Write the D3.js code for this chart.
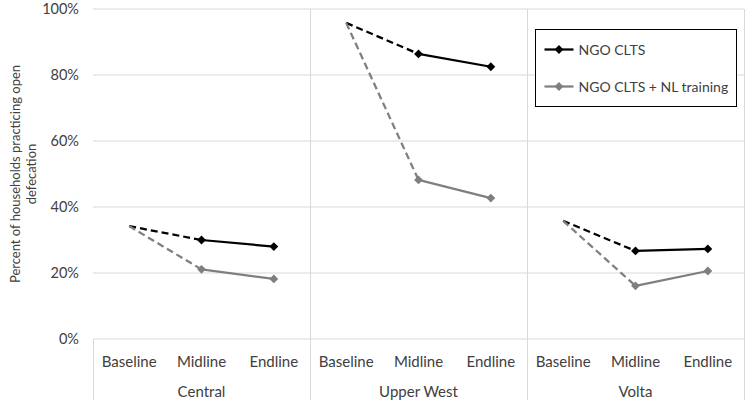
<!DOCTYPE html>
<html>
<head>
<meta charset="utf-8">
<script src="https://cdn.jsdelivr.net/npm/d3@7"></script>
<style>
  body { margin: 0; background: #fff; }
  text { font-family: Lato, "Open Sans", sans-serif; fill: #404040; }
</style>
</head>
<body>
<div id="chart"></div>
<script>
// regions and rounds on the x axis
const regions = ['Central', 'Upper West', 'Volta'];
const rounds = ['Baseline', 'Midline', 'Endline'];

// percent practicing open defecation, one value per round, per region
const clts = [
  [34.2, 30.0, 28.0],
  [95.8, 86.4, 82.5],
  [35.8, 26.7, 27.3]
];
const cltsNl = [
  [34.2, 21.1, 18.2],
  [95.8, 48.2, 42.7],
  [35.8, 16.1, 20.6]
];

const yTicks = [0, 20, 40, 60, 80, 100];

const seriesNames = ['NGO CLTS', 'NGO CLTS + NL training'];
const seriesColors = ['#000000', '#7f7f7f'];

const W = 752, H = 412;
const margin = { top: 9, right: 8, bottom: 73, left: 93 };
const innerW = W - margin.left - margin.right;
const innerH = H - margin.top - margin.bottom;

const svg = d3.select('#chart').append('svg')
  .attr('width', W)
  .attr('height', H);

const g = svg.append('g')
  .attr('transform', `translate(${margin.left},${margin.top})`);

const xRegion = d3.scaleBand().domain(regions).range([0, innerW]);
const xRound = d3.scaleBand().domain(rounds).range([0, xRegion.bandwidth()]);
const y = d3.scaleLinear().domain([0, 100]).range([innerH, 0]);

const px = (ri, k) => xRegion(regions[ri]) + xRound(rounds[k]) + xRound.bandwidth() / 2;

// horizontal gridlines
g.selectAll('.grid')
  .data(yTicks)
  .enter().append('line')
  .attr('x1', 0).attr('x2', innerW)
  .attr('y1', d => y(d)).attr('y2', d => y(d))
  .attr('stroke', '#d9d9d9').attr('stroke-width', 1);

// region separators, running down through the label rows
const seps = regions.map(r => xRegion(r)).concat([innerW]);
g.selectAll('.sep')
  .data(seps)
  .enter().append('line')
  .attr('x1', d => Math.round(d) + 0.5).attr('x2', d => Math.round(d) + 0.5)
  .attr('y1', (d, i) => (i === 0 ? innerH : 0))
  .attr('y2', innerH + 61)
  .attr('stroke', '#d9d9d9').attr('stroke-width', 1);

// y axis labels
const yAxis = g.append('g')
  .call(d3.axisLeft(y).tickValues(yTicks).tickFormat(d => d + '%').tickSize(0).tickPadding(14));
yAxis.select('.domain').remove();
yAxis.selectAll('text').style('font-size', '14.5px').style('font-family', 'Lato').attr('fill', '#404040');

// round labels and region labels
regions.forEach((r, ri) => {
  rounds.forEach((rd, k) => {
    g.append('text')
      .attr('x', px(ri, k))
      .attr('y', innerH + 28)
      .attr('text-anchor', 'middle')
      .style('font-size', '15px')
      .text(rd);
  });
  g.append('text')
    .attr('x', xRegion(r) + xRegion.bandwidth() / 2)
    .attr('y', innerH + 58)
    .attr('text-anchor', 'middle')
    .style('font-size', '15px')
    .text(r);
});

// y axis title
const title = svg.append('text')
  .attr('transform', `translate(20,${margin.top + innerH / 2}) rotate(-90)`)
  .attr('text-anchor', 'middle')
  .style('font-size', '13px');
title.append('tspan').attr('x', 0).attr('dy', 0).text('Percent of households practicing open');
title.append('tspan').attr('x', 0).attr('dy', 16).text('defecation');

// lines and markers
const diamond = d3.symbol().type(d3.symbolDiamond2).size(50);
[clts, cltsNl].forEach((series, si) => {
  const col = seriesColors[si];
  series.forEach((vals, ri) => {
    // baseline to midline: dashed, no marker on baseline
    g.append('path')
      .datum([0, 1])
      .attr('d', d3.line().x(k => px(ri, k)).y(k => y(vals[k])))
      .attr('fill', 'none')
      .attr('stroke', col)
      .attr('stroke-width', 2.25)
      .attr('stroke-dasharray', '7,4');
    // midline to endline: solid
    g.append('path')
      .datum([1, 2])
      .attr('d', d3.line().x(k => px(ri, k)).y(k => y(vals[k])))
      .attr('fill', 'none')
      .attr('stroke', col)
      .attr('stroke-width', 2.25);
    g.selectAll(null)
      .data([1, 2])
      .enter().append('path')
      .attr('d', diamond)
      .attr('transform', k => `translate(${px(ri, k)},${y(vals[k])})`)
      .attr('fill', col);
  });
});

// legend
const lg = svg.append('g').attr('transform', 'translate(535.5,29.5)');
lg.append('rect')
  .attr('width', 201).attr('height', 77)
  .attr('fill', '#fff').attr('stroke', '#000').attr('stroke-width', 1);
seriesNames.forEach((name, i) => {
  const yy = 20 + i * 37;
  lg.append('line')
    .attr('x1', 9).attr('x2', 38).attr('y1', yy).attr('y2', yy)
    .attr('stroke', seriesColors[i]).attr('stroke-width', 2.25);
  lg.append('path')
    .attr('d', diamond)
    .attr('transform', `translate(23.5,${yy})`)
    .attr('fill', seriesColors[i]);
  lg.append('text')
    .attr('x', 43).attr('y', yy + 5)
    .style('font-size', '14px')
    .text(name);
});
</script>
</body>
</html>
